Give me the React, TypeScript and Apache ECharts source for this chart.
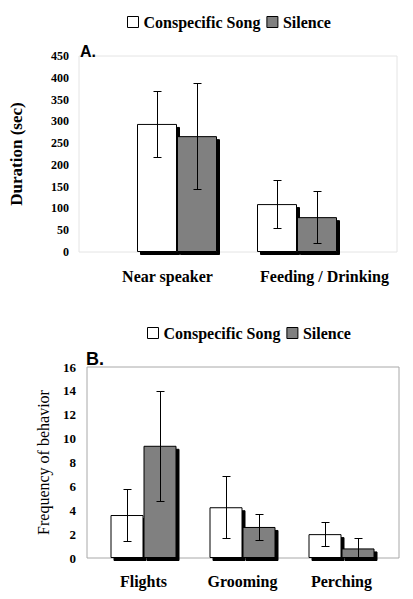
import React, { useEffect, useRef } from "react";
import * as echarts from "echarts";

// Panel A: duration (sec)
const durationCategories = ["Near speaker", "Feeding / Drinking"];
const durationSong = [294, 110];
const durationSongErr = [76, 55];
const durationSilence = [266, 80];
const durationSilenceErr = [121, 60];
const durationAxis = { min: 0, max: 450, interval: 50 };

// Panel B: frequency of behavior
const freqCategories = ["Flights", "Grooming", "Perching"];
const freqSong = [3.6, 4.25, 2.0];
const freqSongErr = [2.15, 2.6, 1.0];
const freqSilence = [9.4, 2.6, 0.8];
const freqSilenceErr = [4.6, 1.06, 0.85];
const freqAxis = { min: 0, max: 16, interval: 2 };

const seriesNames = ["Conspecific Song", "Silence"];

const SERIF = "Liberation Serif";
const SANS = "Liberation Sans";

const songStyle = {
  color: "#ffffff",
  borderColor: "#000",
  borderWidth: 1,
  shadowColor: "#000",
  shadowBlur: 0,
  shadowOffsetX: 3,
  shadowOffsetY: 3,
};
const silenceStyle = { ...songStyle, color: "#808080" };

function errorBars(offsetPx: number, capHalf: number) {
  return (params: any, api: any) => {
    const ci = api.value(0);
    const mean = api.value(1);
    const err = api.value(2);
    const low = mean - err;
    const top = api.coord([ci, mean + err]);
    const bot = api.coord([ci, Math.max(0, low)]);
    const x = Math.round(top[0] + offsetPx) + 0.5;
    const yt = Math.round(top[1]) + 0.5;
    const yb = Math.round(bot[1]) + 0.5;
    const style = { stroke: "#000", lineWidth: 1 };
    const children: any[] = [
      { type: "line", shape: { x1: x, y1: yt, x2: x, y2: yb }, style },
      { type: "line", shape: { x1: x - capHalf, y1: yt, x2: x + capHalf, y2: yt }, style },
    ];
    if (low >= 0) {
      children.push({ type: "line", shape: { x1: x - capHalf, y1: yb, x2: x + capHalf, y2: yb }, style });
    }
    return { type: "group", children };
  };
}

const legendBase = {
  data: seriesNames,
  orient: "horizontal",
  icon: "rect",
  itemWidth: 11,
  itemHeight: 11,
  itemGap: 6,
  padding: 0,
  selectedMode: false,
  itemStyle: {
    borderColor: "#000",
    borderWidth: 1,
    shadowBlur: 0,
    shadowOffsetX: 0,
    shadowOffsetY: 0,
    shadowColor: "rgba(0,0,0,0)",
  },
  textStyle: { fontFamily: SERIF, fontWeight: "bold", fontSize: 16, color: "#000" },
};

export default function App() {
  const ref = useRef<HTMLDivElement>(null);
  useEffect(() => {
    if (!ref.current) return;
    const chart = echarts.init(ref.current, null, { renderer: "svg" });
    const option: any = {
      animation: false,
      backgroundColor: "#fff",
      legend: [
        { ...legendBase, left: 127, top: 14 },
        { ...legendBase, left: 147, top: 325 },
      ],
      grid: [
        { left: 78, top: 56, width: 319, height: 196, show: true, borderColor: "#e4e4e4", borderWidth: 1, backgroundColor: "transparent" },
        { left: 117, top: 56, width: 240, height: 196 },
        { left: 87, top: 367, width: 312, height: 191, show: true, borderColor: "#a8a8a8", borderWidth: 1, backgroundColor: "transparent" },
        { left: 94, top: 367, width: 297, height: 191 },
      ],
      xAxis: [
        { gridIndex: 0, type: "category", data: durationCategories, show: false },
        {
          gridIndex: 1,
          type: "category",
          data: durationCategories,
          axisLine: { show: false },
          axisTick: { show: false },
          axisLabel: {
            margin: 16,
            interval: 0,
            formatter: (v: string, i: number) => `{c${i}|${v}}`,
            rich: {
              c0: { fontFamily: SERIF, fontWeight: "bold", fontSize: 16, color: "#000", padding: [0, 19, 0, 0] },
              c1: { fontFamily: SERIF, fontWeight: "bold", fontSize: 16, color: "#000", padding: [0, 0, 0, 55] },
            },
          },
        },
        { gridIndex: 2, type: "category", data: freqCategories, show: false },
        {
          gridIndex: 3,
          type: "category",
          data: freqCategories,
          axisLine: { show: false },
          axisTick: { show: false },
          axisLabel: {
            margin: 15,
            interval: 0,
            fontFamily: SERIF,
            fontWeight: "bold",
            fontSize: 16,
            color: "#000",
          },
        },
      ],
      yAxis: [
        {
          gridIndex: 0,
          type: "value",
          ...durationAxis,
          name: "Duration (sec)",
          nameLocation: "middle",
          nameRotate: 90,
          nameGap: 54,
          nameTextStyle: { fontFamily: SERIF, fontWeight: "bold", fontSize: 17, color: "#000" },
          axisLine: { show: false },
          axisTick: { show: false },
          splitLine: { show: false },
          axisLabel: { margin: 10, fontFamily: SERIF, fontWeight: "bold", fontSize: 12, color: "#000" },
        },
        { gridIndex: 1, type: "value", ...durationAxis, show: false, splitLine: { show: false } },
        {
          gridIndex: 2,
          type: "value",
          ...freqAxis,
          name: "Frequency of behavior",
          nameLocation: "middle",
          nameRotate: 90,
          nameGap: 36,
          nameTextStyle: { fontFamily: SERIF, fontSize: 16, color: "#000" },
          axisLine: { show: false },
          axisTick: { show: false },
          splitLine: { show: false },
          axisLabel: { margin: 11, fontFamily: SERIF, fontWeight: "bold", fontSize: 13, color: "#000" },
        },
        { gridIndex: 3, type: "value", ...freqAxis, show: false, splitLine: { show: false } },
      ],
      series: [
        { name: seriesNames[0], type: "bar", xAxisIndex: 1, yAxisIndex: 1, data: durationSong, barWidth: 40, barGap: "0%", itemStyle: songStyle },
        { name: seriesNames[1], type: "bar", xAxisIndex: 1, yAxisIndex: 1, data: durationSilence, barWidth: 40, barGap: "0%", itemStyle: silenceStyle },
        {
          name: "errA1", type: "custom", xAxisIndex: 1, yAxisIndex: 1, z: 5,
          renderItem: errorBars(-20, 4),
          data: durationCategories.map((_, i) => [i, durationSong[i], durationSongErr[i]]),
          encode: { x: 0, y: 1 },
        },
        {
          name: "errA2", type: "custom", xAxisIndex: 1, yAxisIndex: 1, z: 5,
          renderItem: errorBars(20, 4),
          data: durationCategories.map((_, i) => [i, durationSilence[i], durationSilenceErr[i]]),
          encode: { x: 0, y: 1 },
        },
        { name: seriesNames[0], type: "bar", xAxisIndex: 3, yAxisIndex: 3, data: freqSong, barWidth: 33, barGap: "0%", itemStyle: songStyle },
        { name: seriesNames[1], type: "bar", xAxisIndex: 3, yAxisIndex: 3, data: freqSilence, barWidth: 33, barGap: "0%", itemStyle: silenceStyle },
        {
          name: "errB1", type: "custom", xAxisIndex: 3, yAxisIndex: 3, z: 5,
          renderItem: errorBars(-16.5, 4),
          data: freqCategories.map((_, i) => [i, freqSong[i], freqSongErr[i]]),
          encode: { x: 0, y: 1 },
        },
        {
          name: "errB2", type: "custom", xAxisIndex: 3, yAxisIndex: 3, z: 5,
          renderItem: errorBars(16.5, 4),
          data: freqCategories.map((_, i) => [i, freqSilence[i], freqSilenceErr[i]]),
          encode: { x: 0, y: 1 },
        },
      ],
      graphic: [
        { type: "text", left: 80, top: 43, style: { text: "A.", fontFamily: SANS, fontWeight: "bold", fontSize: 16, fill: "#000" } },
        { type: "text", left: 86, top: 350, style: { text: "B.", fontFamily: SANS, fontWeight: "bold", fontSize: 18, fill: "#000" } },
      ],
    };
    chart.setOption(option);
    return () => chart.dispose();
  }, []);
  return (
    <div
      ref={ref}
      style={{ position: "absolute", left: 0, top: 0, width: 413, height: 599 }}
    />
  );
}
